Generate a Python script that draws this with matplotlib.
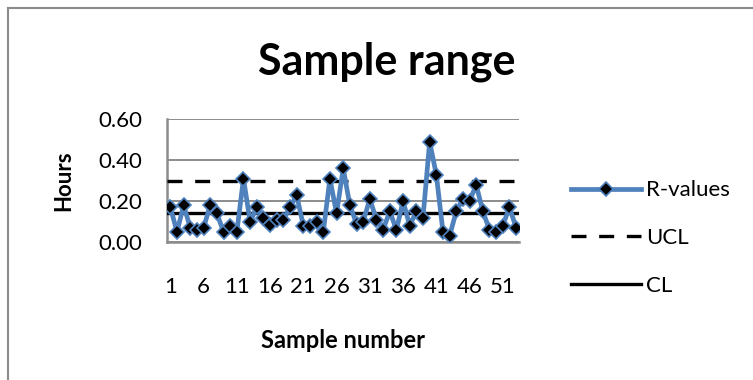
import numpy as np
import matplotlib
matplotlib.use("Agg")
import matplotlib.pyplot as plt
from matplotlib.lines import Line2D

plt.rcParams['font.family'] = ['Lato', 'DejaVu Sans']

# Range of each sample (hours)
r_values = [0.17, 0.05, 0.18, 0.07, 0.06, 0.07, 0.18, 0.14, 0.05, 0.08,
            0.05, 0.31, 0.10, 0.17, 0.12, 0.085, 0.11, 0.11, 0.17, 0.23,
            0.08, 0.08, 0.10, 0.05, 0.31, 0.14, 0.36, 0.18, 0.09, 0.10,
            0.21, 0.11, 0.06, 0.15, 0.06, 0.20, 0.08, 0.15, 0.12, 0.49,
            0.33, 0.05, 0.03, 0.15, 0.21, 0.20, 0.28, 0.15, 0.06, 0.05,
            0.08, 0.17, 0.07]
ucl = 0.30
cl = 0.14
samples = np.arange(1, len(r_values) + 1)
tick_samples = [1, 6, 11, 16, 21, 26, 31, 36, 41, 46, 51]

fig = plt.figure(figsize=(7.53, 3.80), dpi=100)
ax = fig.add_axes([0.2218, 0.363, 0.468, 0.323])

blue = '#4F81BD'
grey = '#8C8C8C'
n = len(r_values)
ax.plot(samples, r_values, color=blue, lw=3.4, marker='D', ms=7,
        mfc='black', mec=blue, mew=1.2, zorder=4, label='R-values')
ax.plot([0.5, n + 0.5], [ucl, ucl], color='black', lw=2.4,
        ls=(0, (4.5, 3.8)), zorder=3, label='UCL')
ax.plot([0.5, n + 0.5], [cl, cl], color='black', lw=2.4,
        zorder=3, label='CL')

ax.set_xlim(0.5, n + 0.5)
ax.set_ylim(0, 0.6)
ax.set_yticks([0, 0.2, 0.4, 0.6])
ax.set_yticklabels(['0.00', '0.20', '0.40', '0.60'])
ax.set_xticks(tick_samples)
ax.grid(axis='y', color=grey, lw=1.4)
ax.set_axisbelow(True)
for side in ['top', 'right']:
    ax.spines[side].set_visible(False)
for side in ['left', 'bottom']:
    ax.spines[side].set_color(grey)
    ax.spines[side].set_linewidth(1.8)
ax.tick_params(axis='y', length=0, pad=18, labelsize=16)
ax.tick_params(axis='x', length=0, pad=25, labelsize=16)

fig.text(0.513, 0.838, 'Sample range', ha='center', va='center',
         fontsize=31, fontweight='bold')
ax.set_xlabel('Sample number', fontsize=17, fontweight='bold', labelpad=23)
ax.set_ylabel('Hours', fontsize=16, fontweight='bold', labelpad=17)

ax.legend(loc='center left', bbox_to_anchor=(1.146, 0.033), frameon=False,
          fontsize=16, handlelength=3.15, labelspacing=1.24,
          handletextpad=0.25, borderaxespad=0, borderpad=0)

# chart area border
y_top = 1 - 8.2 / 380
x_left = 8.2 / 753
fig.add_artist(Line2D([x_left, x_left], [0, y_top],
                      transform=fig.transFigure, color=grey, lw=1.5))
fig.add_artist(Line2D([x_left, 1], [y_top, y_top],
                      transform=fig.transFigure, color=grey, lw=1.5))

fig.savefig('out.png', dpi=100)
